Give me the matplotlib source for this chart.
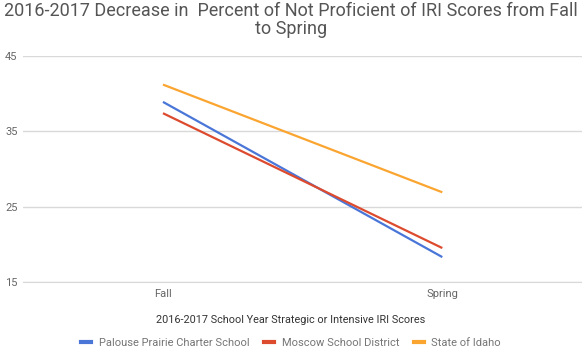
import matplotlib.pyplot as plt
from matplotlib.lines import Line2D

plt.rcParams['font.family'] = ['Roboto', 'DejaVu Sans']

seasons = ["Fall", "Spring"]
palouse = [38.9, 18.3]
moscow = [37.4, 19.5]
idaho = [41.2, 26.9]

names = ["Palouse Prairie Charter School", "Moscow School District", "State of Idaho"]
colors = ["#4a76d8", "#dd4b2f", "#fba531"]

fig = plt.figure(figsize=(5.82, 3.61), dpi=100)
ax = fig.add_axes([0.04, 0.219, 0.96, 0.626])

x = range(len(seasons))
for vals, c in zip([palouse, moscow, idaho], colors):
    ax.plot(x, vals, color=c, lw=1.6, solid_capstyle="butt")

ax.set_xlim(-0.5, 1.5)
ax.set_ylim(15, 45)
ax.set_yticks([15, 25, 35, 45])
ax.set_xticks(list(x))
ax.set_xticklabels(seasons)
ax.grid(axis="y", color="#d9d9d9", lw=1)
ax.set_axisbelow(True)
for s in ax.spines.values():
    s.set_visible(False)
ax.spines["bottom"].set_visible(True)
ax.spines["bottom"].set_color("#d9d9d9")
ax.tick_params(length=0, labelsize=8, colors="#666666", pad=4)
ax.tick_params(axis="x", pad=5)

fig.text(0.5, 0.945, "2016-2017 Decrease in  Percent of Not Proficient of IRI Scores from Fall\nto Spring",
         ha="center", va="center", fontsize=13, color="#555555", linespacing=0.95)

fig.text(0.5, 0.113, "2016-2017 School Year Strategic or Intensive IRI Scores",
         ha="center", va="center", fontsize=7.8, color="#333333")

handles = [Line2D([], [], color=c, lw=3) for c in colors]
fig.legend(handles, names, loc="center", bbox_to_anchor=(0.5, 0.05), ncol=3, frameon=False,
           fontsize=8, labelcolor="#757575", handlelength=0.9, handletextpad=0.7, columnspacing=1.3)

fig.savefig("out.png", dpi=100)
